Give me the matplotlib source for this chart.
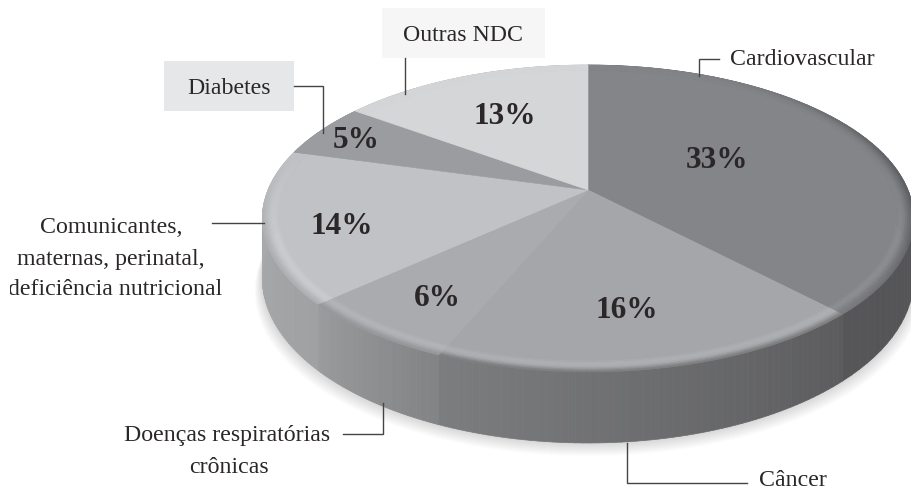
import numpy as np
import matplotlib
matplotlib.use('Agg')
import matplotlib.pyplot as plt
from matplotlib.collections import PolyCollection
from matplotlib.patches import Rectangle

categories = ['Cardiovascular', 'Câncer', 'Doenças respiratórias crônicas',
              'Comunicantes, maternas, perinatal, deficiência nutricional',
              'Diabetes', 'Outras NDC']
values = [33, 16, 6, 14, 5, 13]

top_colors = ['#848589', '#a5a6a9', '#aaabae', '#c1c2c5', '#9b9c9f', '#d5d6d8']
side_right = ['#4e4e50', '#5c5c5e', '#828385', '#a0a1a3', '#a8a9ab', '#a8a9ab']
side_left = ['#565658', '#7c7d7f', '#9a9b9d', '#acadaf', '#a8a9ab', '#a8a9ab']

plt.rcParams['font.family'] = ['Liberation Serif', 'DejaVu Serif']
ink = '#2b2627'
line = '#444444'

# perspective of the disc, in pixels
cx, cy = 588, 190
A, B, b = 148.2, 320, 0.1857
depth = 57.8


def project(theta, r=1.0, drop=0.0):
    # theta runs clockwise from 12 o'clock
    u = r * np.sin(theta)
    v = r * np.cos(theta)
    w = 1 + b * v
    return np.column_stack([cx + B * u / w, cy - A * v / w + drop * depth / w])


def rgb(c):
    return np.array(matplotlib.colors.to_rgb(c))


fig = plt.figure(figsize=(9.12, 4.93), dpi=100)
ax = fig.add_axes([0, 0, 1, 1])
ax.set_xlim(0, 912)
ax.set_ylim(493, 0)
ax.axis('off')

edges = np.concatenate([[0], np.cumsum(values)]) / sum(values) * 2 * np.pi

# soft shadow below the disc
circle = np.linspace(0, 2 * np.pi, 361)
base = project(circle, drop=1.0)
for k in range(1, 14):
    s = base.copy()
    s[:, 0] = cx + (s[:, 0] - cx) * (1 + k * 0.0018)
    s[:, 1] = s[:, 1] + k
    ax.fill(s[:, 0], s[:, 1], color='#55585c', alpha=0.014, lw=0, zorder=1)

# side wall
quads, cols = [], []
for i in range(len(values)):
    th = np.linspace(edges[i], edges[i + 1], 61)
    up = project(th)
    lo = project(th, drop=1.0)
    for j in range(60):
        t = j / 59
        quads.append([up[j], up[j + 1], lo[j + 1], lo[j]])
        cols.append((1 - t) * rgb(side_right[i]) + t * rgb(side_left[i]))
ax.add_collection(PolyCollection(quads, facecolors=cols, edgecolors=cols, linewidths=0.5, zorder=2))

# top face with a bevelled rim, only the near side catches the light
rings = np.linspace(0.95, 1.0, 9)
for i in range(len(values)):
    th = np.linspace(edges[i], edges[i + 1], 121)
    p = np.vstack([[cx, cy], project(th, r=rings[0])])
    ax.fill(p[:, 0], p[:, 1], color=top_colors[i], lw=0.4, zorder=3)
    quads, cols = [], []
    sc = 0.5 * (rgb(side_right[i]) + rgb(side_left[i]))
    for k in range(len(rings) - 1):
        inner = project(th, r=rings[k])
        outer = project(th, r=rings[k + 1])
        pos = (k + 0.5) / (len(rings) - 1)
        bump = np.sin(np.pi * min(pos * 1.6, 1.0))
        for j in range(120):
            m = 0.5 * (th[j] + th[j + 1])
            near = np.clip((0.25 - np.cos(m)) / 0.6, 0, 1)
            amt = 9 * near
            c = rgb(top_colors[i]) + amt * bump / 255
            if i == 0:
                c = c - 40 * max(np.sin(m), 0) ** 3 * pos ** 2 / 255
            elif pos > 0.6:
                c = c + near * 0.8 * (pos - 0.6) / 0.4 * (sc - c)
            quads.append([inner[j], inner[j + 1], outer[j + 1], outer[j]])
            cols.append(np.clip(c, 0, 1))
    ax.add_collection(PolyCollection(quads, facecolors=cols, edgecolors=cols, linewidths=0.4, zorder=3))

# label boxes
ax.add_patch(Rectangle((382, 8), 163, 50, fc='#f6f6f6', ec='none', zorder=4))
ax.add_patch(Rectangle((164, 61), 130, 50, fc='#e6e7e9', ec='none', zorder=4))

# leader lines
leaders = [([699, 699, 719], [76, 59, 59]),
           ([405, 405], [58, 94]),
           ([294, 323, 323], [86, 86, 133]),
           ([212, 264], [223, 223]),
           ([343, 383, 383], [434, 434, 403]),
           ([627, 627, 747], [443, 483, 483])]
for xs, ys in leaders:
    ax.plot(xs, ys, color=line, lw=1, solid_joinstyle='miter', zorder=5)

# category labels
lab = dict(fontsize=17.2, color=ink, va='center', zorder=6)
ax.text(730, 59.5, 'Cardiovascular', ha='left', **lab)
ax.text(463, 35.5, 'Outras NDC', ha='center', **lab)
ax.text(229, 88.5, 'Diabetes', ha='center', **lab)
ax.text(111, 227.5, 'Comunicantes,', ha='center', **lab)
ax.text(111, 259.5, 'maternas, perinatal,', ha='center', **lab)
ax.text(222, 289.5, 'deficiência nutricional', ha='right', **lab)
ax.text(330, 435.5, 'Doenças respiratórias', ha='right', **lab)
ax.text(229, 467.5, 'crônicas', ha='center', **lab)
ax.text(759, 481, 'Câncer', ha='left', **lab)
# the first letter is cut off in the source
ax.add_patch(Rectangle((0, 270), 10.5, 35, fc='white', ec='none', zorder=7))

# percentages
pct_x = [717, 627, 437, 342, 356, 505]
pct_y = [160, 310, 299, 227, 141, 117]
for v, x, y in zip(values, pct_x, pct_y):
    ax.text(x, y, f'{v}%', fontsize=22.5, fontweight='bold', color=ink,
            ha='center', va='center', zorder=6)

fig.savefig('out.png', dpi=100)
